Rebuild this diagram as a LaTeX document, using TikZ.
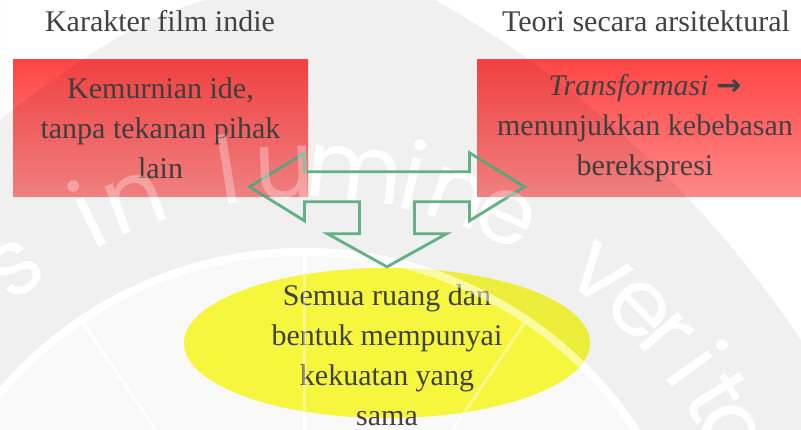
\documentclass[tikz,border=0pt]{standalone}
\usepackage{fontspec}
\setmainfont{Liberation Serif}
\newfontfamily\sealfont{Poppins}
\newfontfamily\arrowfont{DejaVu Sans}
\usetikzlibrary{shapes.geometric,calc}
\definecolor{textgray}{RGB}{66,66,66}
\definecolor{boxtop}{RGB}{255,70,70}
\definecolor{boxbottom}{RGB}{255,136,136}
\definecolor{sunny}{RGB}{252,252,64}
\definecolor{arrowgreen}{RGB}{98,176,132}
\definecolor{sealgray}{RGB}{240,240,240}
\definecolor{sealinner}{RGB}{249,249,249}
\begin{document}
\begin{tikzpicture}[x=1pt, y=1pt,
	heading/.style={text=textgray, font=\fontsize{30}{40}\selectfont, inner sep=0pt, anchor=base},
	idea/.style={rectangle, top color=boxtop, bottom color=boxbottom, minimum height=137, text=textgray, font=\fontsize{30}{40}\selectfont, align=center, inner sep=0pt},
	result/.style={ellipse, fill=sunny, minimum width=406, minimum height=150, inner sep=0pt},
	flow/.style={draw=arrowgreen, line width=2.8pt, line join=miter},
	seal/.style={font=\sealfont\fontsize{94}{94}\selectfont, inner sep=0pt, anchor=base},
	band/.style={insert path={(-94,-507) circle (1075) (0,429) -- (205,429) .. controls (140,409) and (90,379) .. (0,309) -- cycle (304,-221) circle (402)}}]
%			\draw[help lines] (0,0) grid (801,429);
			\useasboundingbox (0,0) rectangle (801,429);
			% watermark seal behind
			\fill[white] (0,0) rectangle (801,429);
			\fill[sealgray, even odd rule, band];
			\fill[sealinner] (304,-221) circle (402);
			\draw[white, line width=8] (304,-221) circle (398);
			\foreach \ang in {56,90,124}
				\draw[white, line width=3] (304,-221) -- ++(\ang:394);
			\coordinate (seal) at (304,-221);
			\foreach \ch/\ang in {s/127.1, i/116.4, n/110.6, l/99, u/92.3, m/84, i/77, n/71.3, e/65, v/51.8, e/45.5, r/40.9, i/36, t/31.6, a/26.8}
				\node[seal, text=white, rotate=\ang-90] at ($(seal)+(\ang:452)$) {\ch};
			% diagram
			\node[heading] (indie label) at (160,397) {Karakter film indie};
			\node[heading] (theory label) at (646,397) {Teori secara arsitektural};
			\node[idea, minimum width=295] (purity) at (160.5,300.5) {Kemurnian ide,\\tanpa tekanan pihak\\lain};
			\node[idea, minimum width=336] (transform) at (645,300.5) {\textit{Transformasi} {\arrowfont\bfseries →}\\menunjukkan kebebasan\\berekspresi};
			\node[result] (equal) at (387,86) {};
			\node[text=textgray, font=\fontsize{30}{40}\selectfont, align=center, inner sep=0pt, anchor=north] (equal text) at (387,144.5) {Semua ruang dan\\bentuk mempunyai\\kekuatan yang\\sama};
			\coordinate (hub) at ($(equal.north)+(0,81)$);
			\draw[flow, shift={(hub)}] (-137.5,0) -- (-82.5,34) -- (-82.5,15) -- (82.5,15) -- (82.5,34) -- (137.5,0) -- (82.5,-34) -- (82.5,-15) -- (27.5,-15) -- (27.5,-47) -- (59.5,-47) -- (0,-80) -- (-59.5,-47) -- (-27.5,-47) -- (-27.5,-15) -- (-82.5,-15) -- (-82.5,-34) -- cycle;
			% seal showing through the boxes and the ellipse
			\begin{scope}
				\clip (purity.south west) rectangle (purity.north east) (transform.south west) rectangle (transform.north east) (equal.center) ellipse (203 and 75);
				\fill[black, fill opacity=0.06, even odd rule, band];
				\fill[black, fill opacity=0.025] (seal) circle (402);
				\draw[white, line width=8, draw opacity=0.5] (seal) circle (398);
				\foreach \ang in {56,90,124}
					\draw[white, line width=3, draw opacity=0.4] (seal) -- ++(\ang:394);
				\foreach \ch/\ang in {i/116.4, n/110.6, l/99, u/92.3, e/65}
					\node[seal, text=white, text opacity=0.3, rotate=\ang-90] at ($(seal)+(\ang:452)$) {\ch};
			\end{scope}
		\end{tikzpicture}
\end{document}
